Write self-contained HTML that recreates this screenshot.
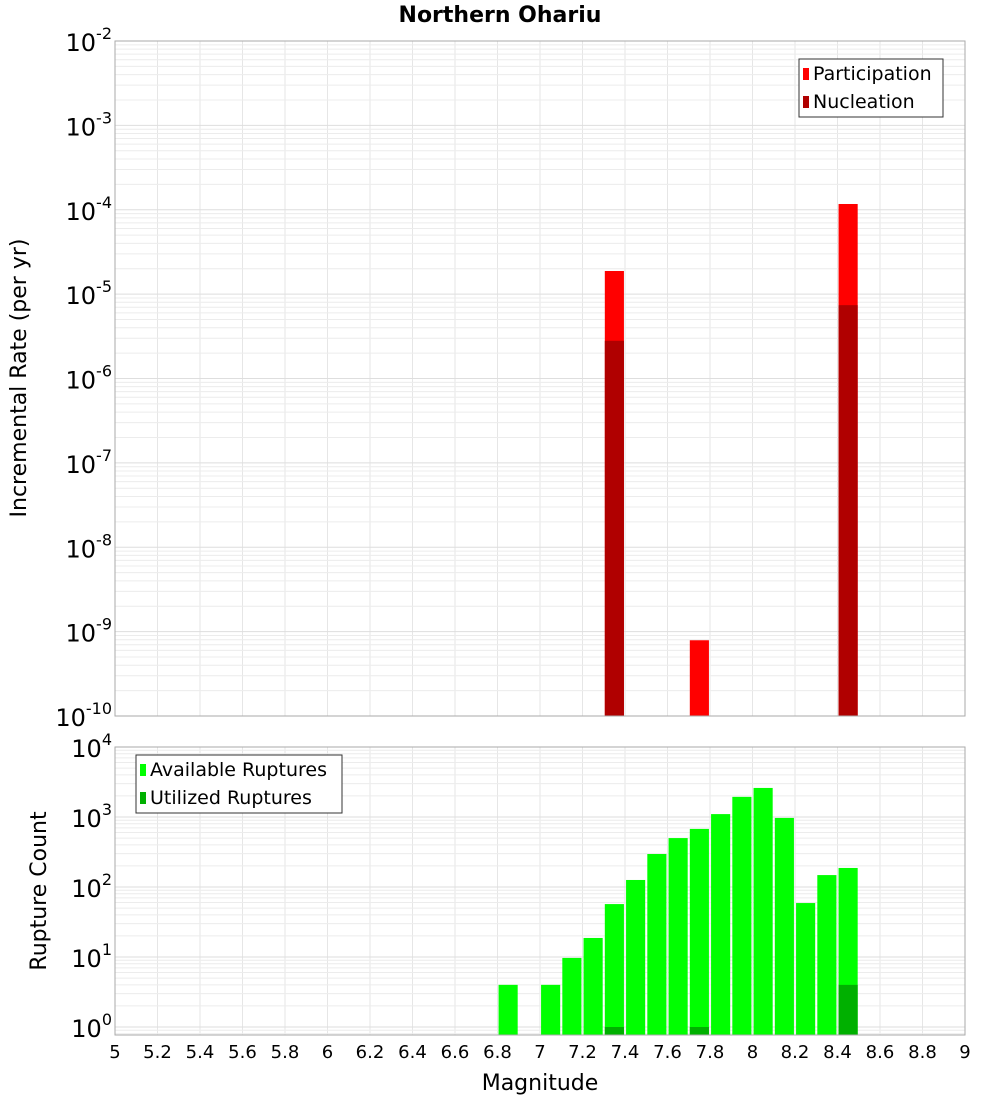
<!DOCTYPE html>
<html><head><meta charset="utf-8"><style>
body{margin:0;background:#fff;font-family:"Liberation Sans","DejaVu Sans",sans-serif}
svg text{font-family:"DejaVu Sans","Liberation Sans",sans-serif}
</style></head><body>
<svg id="c" width="1000" height="1100" xmlns="http://www.w3.org/2000/svg">
<rect width="1000" height="1100" fill="#fff"/>
<text x="500" y="22" text-anchor="middle" font-size="22" font-weight="bold">Northern Ohariu</text>
<text transform="translate(26,378) rotate(-90)" text-anchor="middle" font-size="22">Incremental Rate (per yr)</text>
<text transform="translate(46,891) rotate(-90)" text-anchor="middle" font-size="22">Rupture Count</text>
<text x="540" y="1090" text-anchor="middle" font-size="22">Magnitude</text>
<g id="g"></g>
</svg>
<script>
const magBins=[7.35,7.75,8.45];
const participation=[1.88e-5,7.9e-10,1.17e-4];
const nucleation=[2.8e-6,0,7.4e-6];
const countBins=[6.85,7.05,7.15,7.25,7.35,7.45,7.55,7.65,7.75,7.85,7.95,8.05,8.15,8.25,8.35,8.45];
const available=[4,4,9.7,18.7,57,126,296,500,676,1100,1940,2600,970,59,148,187];
const utilizedBins=[7.35,7.75,8.45];
const utilized=[1,1,4];
const xTicks=[5,5.2,5.4,5.6,5.8,6,6.2,6.4,6.6,6.8,7,7.2,7.4,7.6,7.8,8,8.2,8.4,8.6,8.8,9];
const topExps=[-2,-3,-4,-5,-6,-7,-8,-9,-10];
const botExps=[4,3,2,1,0];

const NS="http://www.w3.org/2000/svg";
const g=document.getElementById('g');
function el(t,a,p){const e=document.createElementNS(NS,t);for(const k in a)e.setAttribute(k,a[k]);(p||g).appendChild(e);return e;}
const X0=115,X1=965;
const xs=m=>X0+(m-5)/4*(X1-X0);
const T0=41,T1=716;
const yTop=v=>T0+(-2-Math.log10(v))*(T1-T0)/8;
const B0=747,B1=1035,BDEC=70;
const yBot=v=>B0+(4-Math.log10(v))*BDEC;

function panel(top,bot,decs,yf,nm){
  el('rect',{x:X0,y:top,width:X1-X0,height:bot-top,fill:'#fff'});
  for(const t of xTicks){const l=el('line',{x1:xs(t),x2:xs(t),y1:top,y2:bot,stroke:'#e6e6e6'});}
  for(let d=decs[0];d<decs[1];d++){for(let k=1;k<10;k++){const y=yf(k*Math.pow(10,d));if(y>=top&&y<=bot)el('line',{x1:X0,x2:X1,y1:y,y2:y,stroke:k==1?'#dedede':'#ececec'});}}
}
panel(T0,T1,[-10,-2],yTop);
panel(B0,B1,[-1,4],yBot);

const bw=(X1-X0)/40*0.9;
function bar(m,v,base,yf,col,name){
  if(!v)return;
  const y=yf(v);
  const r=el('rect',{x:xs(m)-bw/2,y:y,width:bw,height:base-y,fill:col});
  
  
}
magBins.forEach((m,i)=>bar(m,participation[i],T1,yTop,'#ff0000','participation-bar-'+m));
magBins.forEach((m,i)=>bar(m,nucleation[i],T1,yTop,'#b00000','nucleation-bar-'+m));
countBins.forEach((m,i)=>bar(m,available[i],B1,yBot,'#00ff00','available-bar-'+m));
utilizedBins.forEach((m,i)=>bar(m,utilized[i],B1,yBot,'#00b000','utilized-bar-'+m));

el('rect',{x:X0,y:T0,width:X1-X0,height:T1-T0,fill:'none',stroke:'#aaa'});
el('rect',{x:X0,y:B0,width:X1-X0,height:B1-B0,fill:'none',stroke:'#aaa'});

function expLabel(x,y,e,name){
  const t=el('text',{x:x,y:y,'text-anchor':'end','font-size':24});
  
  
  const a=el('tspan',{},t);a.textContent='10';
  const b=el('tspan',{dy:-12,'font-size':16},t);b.textContent=String(e);
  return t;
}
topExps.forEach(e=>{const y=yTop(Math.pow(10,e));const t=expLabel(112,y+10,e,'top-y-tick');});
botExps.forEach(e=>{const y=yBot(Math.pow(10,e));expLabel(112,y+10,e,'bottom-y-tick');});
xTicks.forEach(t=>{const e=el('text',{x:xs(t),y:1058,'text-anchor':'middle','font-size':18});e.textContent=String(t);
  
  });

function legend(x,y,w,items,name){
  const lg=el('g',{});
  
  
  el('rect',{x:x,y:y,width:w,height:58,fill:'#fff',stroke:'#333'},lg);
  items.forEach((it,i)=>{
    el('rect',{x:x+4,y:y+9+i*28,width:6,height:12,fill:it[1]},lg);
    const t=el('text',{x:x+14,y:y+21+i*28,'font-size':19},lg);t.textContent=it[0];
  });
}
legend(799,59,144,[['Participation','#ff0000'],['Nucleation','#b00000']],'top-legend');
legend(136,755,206,[['Available Ruptures','#00ff00'],['Utilized Ruptures','#00b000']],'bottom-legend');
</script>
</body></html>
